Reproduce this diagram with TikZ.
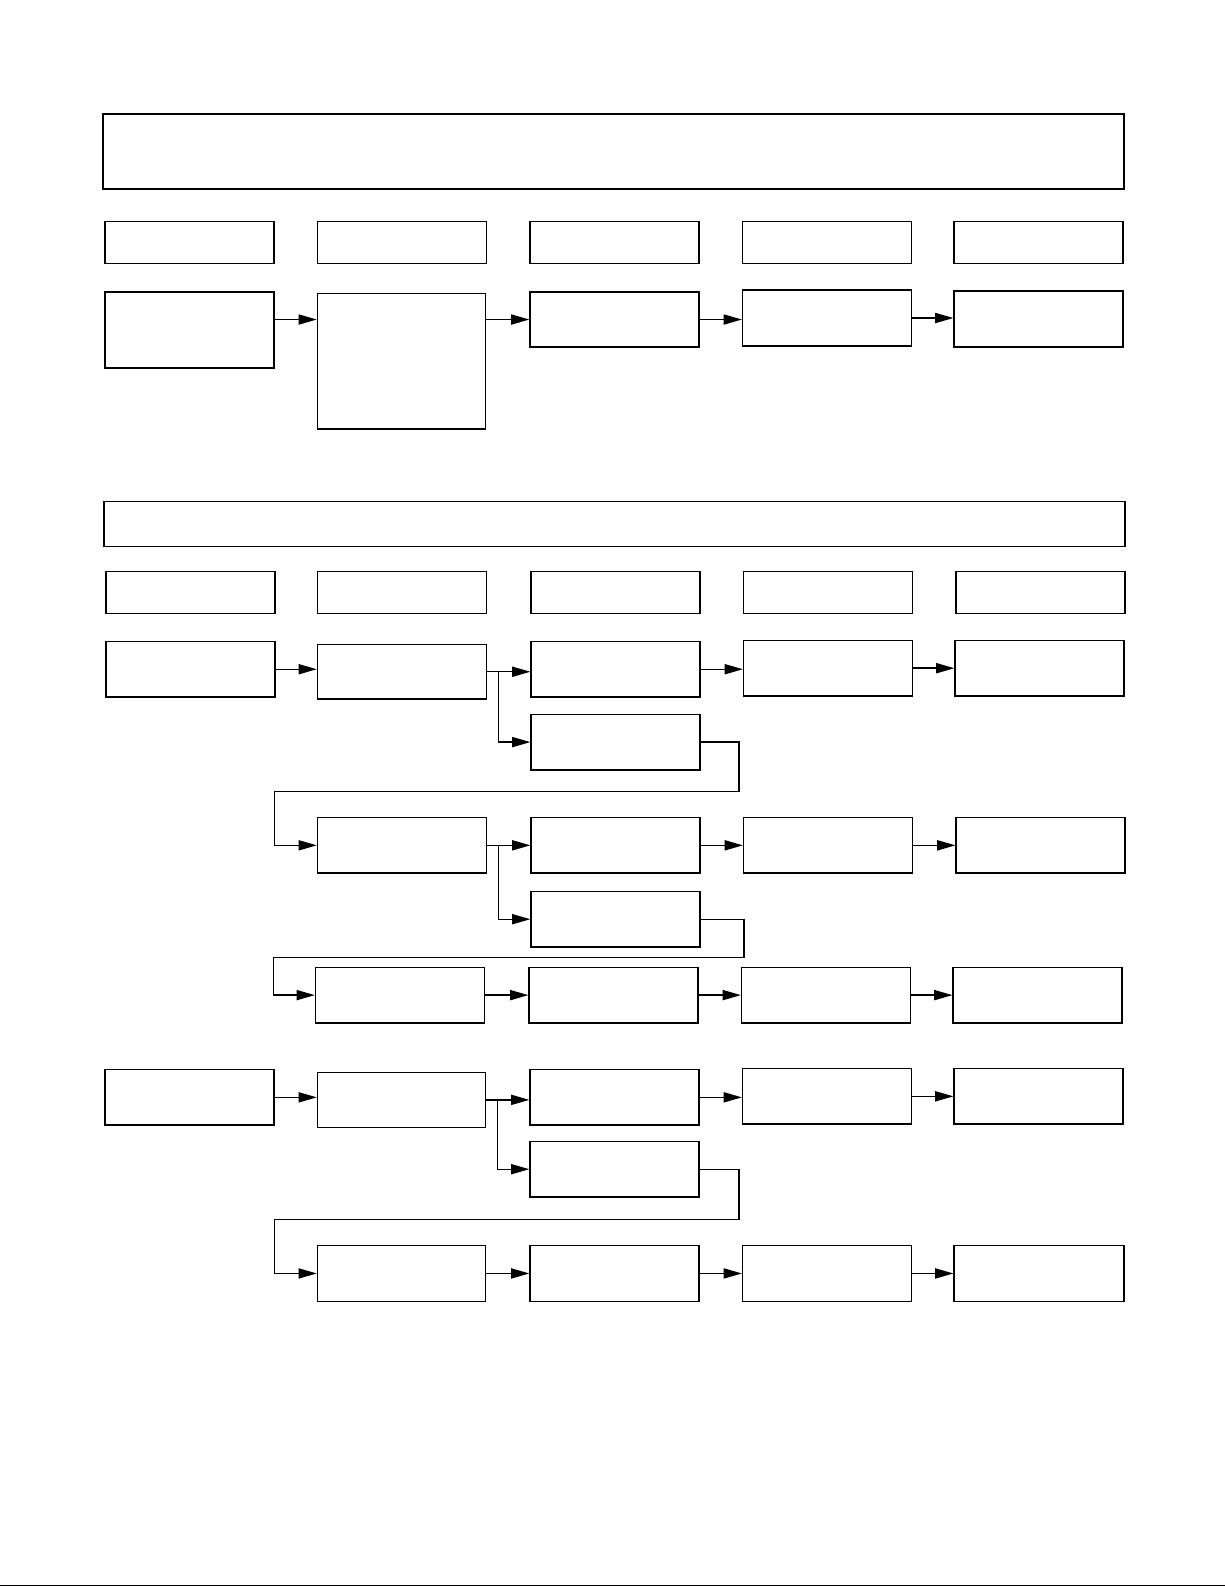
\documentclass[tikz,border=0pt]{standalone}
\usepackage{tikz}
\usetikzlibrary{arrows.meta}

\begin{document}
\begin{tikzpicture}[x=0.5pt, y=-0.5pt,
  box/.style={draw, line width=0.7pt, anchor=north west, inner sep=0pt,
              minimum width=83.5pt, minimum height=27.5pt},
  hdr/.style={box, minimum height=20.75pt},
  band/.style={box, minimum width=504.5pt},
  arr/.style={-{Triangle[length=9pt, width=5pt]}, line width=0.7pt}
]
\useasboundingbox (0,0) rectangle (1210,1568);

% first block
\node[band, minimum height=37pt] (top1) at (101,112) {};
\node[hdr] (h11) at (103,218) {};
\node[hdr] (h12) at (313,218) {};
\node[hdr] (h13) at (523,218) {};
\node[hdr] (h14) at (733,218) {};
\node[hdr] (h15) at (942,218) {};
\node[box, minimum height=37.5pt] (a1) at (103,288) {};
\node[box, minimum width=83pt, minimum height=67pt] (a2) at (313,289) {};
\node[box, minimum height=27pt] (a3) at (523,288) {};
\node[box] (a4) at (733,286) {};
\node[box] (a5) at (942,287) {};

\draw[arr] (a1.east |- a3) -- (a2.west |- a3);
\draw[arr] (a2.east |- a3) -- (a3.west);
\draw[arr] (a3.east) -- (a3.east -| a4.west);
\draw[arr] (a4.east) -- (a4.east -| a5.west);

% second block
\node[band, minimum height=22pt] (top2) at (102,495) {};
\node[hdr] (h21) at (104,564) {};
\node[hdr] (h22) at (313,564) {};
\node[hdr] (h23) at (524,564) {};
\node[hdr] (h24) at (734,564) {};
\node[hdr] (h25) at (944,564) {};

\node[box] (b1) at (104,633) {};
\node[box, minimum height=27pt] (b2) at (313,636) {};
\node[box] (b3) at (524,633) {};
\node[box] (b4) at (734,632) {};
\node[box] (b5) at (943,632) {};
\node[box] (c3) at (524,705) {};

\node[box] (d2) at (313,807) {};
\node[box] (d3) at (524,807) {};
\node[box] (d4) at (734,807) {};
\node[box] (d5) at (944,807) {};
\node[box] (e3) at (524,880) {};

\node[box] (f2) at (311,955) {};
\node[box] (f3) at (522,955) {};
\node[box] (f4) at (732,955) {};
\node[box] (f5) at (941,955) {};

\draw[arr] (b1.east) -- (b1.east -| b2.west);
\draw[arr] (b2.east) -- (b2.east -| b3.west);
\draw[arr] (b3.east) -- (b3.east -| b4.west);
\draw[arr] (b4.east) -- (b4.east -| b5.west);
\coordinate (jb) at ([xshift=5.5pt]b2.east);
\draw[arr] (jb) |- (c3.west);
\coordinate (lb1) at (730,782);
\coordinate (lb2) at (271,782);
\draw[arr] (c3.east) -| (lb1) -- (lb2) |- (d2.west);

\draw[arr] (d2.east) -- (d2.east -| d3.west);
\draw[arr] (d3.east) -- (d3.east -| d4.west);
\draw[arr] (d4.east) -- (d4.east -| d5.west);
\coordinate (jd) at ([xshift=5.5pt]d2.east);
\draw[arr] (jd) |- (e3.west);
\coordinate (ld1) at (735,946);
\coordinate (ld2) at (270,946);
\draw[arr] (e3.east) -| (ld1) -- (ld2) |- (f2.west);

\draw[arr] (f2.east) -- (f2.east -| f3.west);
\draw[arr] (f3.east) -- (f3.east -| f4.west);
\draw[arr] (f4.east) -- (f4.east -| f5.west);

% third block
\node[box] (g1) at (103,1056) {};
\node[box, minimum width=83pt, minimum height=27pt] (g2) at (313,1059) {};
\node[box] (g3) at (523,1056) {};
\node[box] (g4) at (733,1055) {};
\node[box] (g5) at (942,1055) {};
\node[box] (k3) at (523,1127) {};

\node[box, minimum width=83pt] (m2) at (313,1230) {};
\node[box] (m3) at (523,1230) {};
\node[box] (m4) at (733,1230) {};
\node[box, minimum width=84pt] (m5) at (942,1230) {};

\draw[arr] (g1.east) -- (g1.east -| g2.west);
\draw[arr] (g2.east) -- (g2.east -| g3.west);
\draw[arr] (g3.east) -- (g3.east -| g4.west);
\draw[arr] (g4.east) -- (g4.east -| g5.west);
\coordinate (jg) at ([xshift=5.5pt]g2.east);
\draw[arr] (jg) |- (k3.west);
\coordinate (lg1) at (730,1205);
\coordinate (lg2) at (271,1205);
\draw[arr] (k3.east) -| (lg1) -- (lg2) |- (m2.west);

\draw[arr] (m2.east) -- (m2.east -| m3.west);
\draw[arr] (m3.east) -- (m3.east -| m4.west);
\draw[arr] (m4.east) -- (m4.east -| m5.west);

% page rule
\draw[line width=0.9pt] (0,1566.5) -- (1210,1566.5);
\end{tikzpicture}
\end{document}
